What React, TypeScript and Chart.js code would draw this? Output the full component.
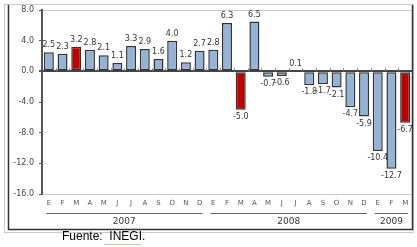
import { useEffect, useRef } from "react";
import { Chart, registerables } from "chart.js";

Chart.register(...registerables);

const monthLetters = ["E", "F", "M", "A", "M", "J", "J", "A", "S", "O", "N", "D"];
const years = ["2007", "2008", "2009"];
const monthsPerYear = [12, 12, 3];
const values2007 = [2.5, 2.3, 3.2, 2.8, 2.1, 1.1, 3.3, 2.9, 1.6, 4.0, 1.2, 2.7];
const values2008 = [2.8, 6.3, -5.0, 6.5, -0.7, -0.6, 0.1, -1.8, -1.7, -2.1, -4.7, -5.9];
const values2009 = [-10.4, -12.7, -6.7];
const highlightMonthIndex = 2; // March
const yMin = -16;
const yMax = 8;
const yStep = 4;
const sourceText = "Fuente:  INEGI.";

const categories: string[] = [];
const monthIdx: number[] = [];
monthsPerYear.forEach((n) => {
  for (let i = 0; i < n; i++) {
    categories.push(monthLetters[i]);
    monthIdx.push(i);
  }
});
const values = [...values2007, ...values2008, ...values2009];

const BLUE = "#95b3d7";
const RED = "#c00000";
const FONT = "'DejaVu Sans', sans-serif";
const SRC_FONT = "'Liberation Sans', Arial, sans-serif";

export default function App() {
  const ref = useRef<HTMLCanvasElement | null>(null);

  useEffect(() => {
    document.body.style.margin = "0";
    const canvas = ref.current;
    if (!canvas) return;

    const framePlugin = {
      id: "frame",
      beforeDraw(chart: any) {
        const ctx = chart.ctx;
        ctx.save();
        ctx.fillStyle = "#fff";
        ctx.fillRect(0, 0, chart.width, chart.height);
        ctx.strokeStyle = "#c8c8c8";
        ctx.lineWidth = 1;
        ctx.strokeRect(4.5, 4.5, 409, 228);
        ctx.strokeStyle = "#333";
        ctx.lineWidth = 1.5;
        ctx.beginPath();
        ctx.moveTo(8.5, 5);
        ctx.lineTo(8.5, 229.5);
        ctx.lineTo(412.5, 229.5);
        ctx.lineTo(412.5, 5);
        ctx.stroke();
        ctx.restore();
      },
      afterDatasetsDraw(chart: any) {
        const ctx = chart.ctx;
        const meta = chart.getDatasetMeta(0);
        const x = chart.scales.x;
        const y = chart.scales.y;
        const y0 = y.getPixelForValue(0);
        ctx.save();
        ctx.strokeStyle = "#777";
        ctx.lineWidth = 1;
        for (let i = 1; i < categories.length; i++) {
          const bx = Math.round((x.getPixelForValue(i - 1) + x.getPixelForValue(i)) / 2) + 0.5;
          ctx.beginPath();
          ctx.moveTo(bx, y0 - 3);
          ctx.lineTo(bx, y0);
          ctx.stroke();
        }
        ctx.font = `8px ${FONT}`;
        ctx.fillStyle = "#333";
        ctx.textAlign = "center";
        meta.data.forEach((bar: any, i: number) => {
          const v = values[i];
          const txt = v.toFixed(1);
          if (v >= 0) {
            ctx.textBaseline = "bottom";
            ctx.fillText(txt, bar.x, bar.y - 3);
          } else {
            ctx.textBaseline = "top";
            ctx.fillText(txt, bar.x, bar.y + 3);
          }
        });
        ctx.restore();
      },
      afterDraw(chart: any) {
        const ctx = chart.ctx;
        const x = chart.scales.x;
        const step = x.getPixelForValue(1) - x.getPixelForValue(0);
        ctx.save();
        let start = 0;
        monthsPerYear.forEach((n, yi) => {
          const left = x.getPixelForValue(start) - step / 2;
          const right = x.getPixelForValue(start + n - 1) + step / 2;
          ctx.strokeStyle = "#666";
          ctx.lineWidth = 1;
          ctx.beginPath();
          ctx.moveTo(left + 4, 213.5);
          ctx.lineTo(right - 4, 213.5);
          ctx.stroke();
          ctx.font = `9px ${FONT}`;
          ctx.fillStyle = "#333";
          ctx.textAlign = "center";
          ctx.textBaseline = "middle";
          ctx.fillText(years[yi], (left + right) / 2, 222);
          start += n;
        });
        ctx.font = `12px ${SRC_FONT}`;
        ctx.fillStyle = "#000";
        ctx.textAlign = "left";
        ctx.textBaseline = "middle";
        ctx.fillText(sourceText, 62, 237);
        const pre = ctx.measureText("Fuente:  ").width;
        const w = ctx.measureText("INEGI").width;
        ctx.strokeStyle = "#6aa84f";
        ctx.lineWidth = 1;
        ctx.setLineDash([1, 1]);
        ctx.beginPath();
        ctx.moveTo(62 + pre - 5, 244.5);
        ctx.lineTo(62 + pre + w, 244.5);
        ctx.stroke();
        ctx.restore();
      },
    };

    const chart = new Chart(canvas, {
      type: "bar",
      data: {
        labels: categories,
        datasets: [
          {
            data: values,
            backgroundColor: monthIdx.map((m) => (m === highlightMonthIndex ? RED : BLUE)),
            borderColor: "#333",
            borderWidth: 1.5,
            borderSkipped: false,
            barPercentage: 1,
            categoryPercentage: 0.73,
          },
        ],
      },
      options: {
        responsive: false,
        animation: false,
        layout: { padding: { top: 10, right: 5, left: 0, bottom: 0 } },
        plugins: { legend: { display: false }, tooltip: { enabled: false } },
        scales: {
          x: {
            grid: { display: false, drawTicks: false },
            border: { display: false },
            ticks: {
              autoSkip: false,
              maxRotation: 0,
              padding: 5,
              color: "#555",
              font: { size: 7, family: FONT },
            },
            afterFit: (s: any) => {
              s.height = 53;
            },
          },
          y: {
            min: yMin,
            max: yMax,
            ticks: {
              stepSize: yStep,
              padding: 5,
              color: "#444",
              font: { size: 8, family: FONT },
              callback: (v: any) => Number(v).toFixed(1),
            },
            grid: {
              color: (c: any) =>
                c.tick && c.tick.value === 0
                  ? "#444"
                  : c.tick && (c.tick.value === yMax || c.tick.value === yMin)
                  ? "#c8c8c8"
                  : "rgba(0,0,0,0)",
              lineWidth: (c: any) => (c.tick && c.tick.value === 0 ? 2 : 1),
              tickLength: 3,
              tickColor: "#555",
            },
            border: { display: true, color: "#555", width: 2 },
            afterFit: (s: any) => {
              s.width = 42;
            },
          },
        },
      },
      plugins: [framePlugin],
    });
    return () => chart.destroy();
  }, []);

  return (
    <div style={{ width: 417, height: 247 }}>
      <canvas ref={ref} width={417} height={247} style={{ display: "block" }} />
    </div>
  );
}
